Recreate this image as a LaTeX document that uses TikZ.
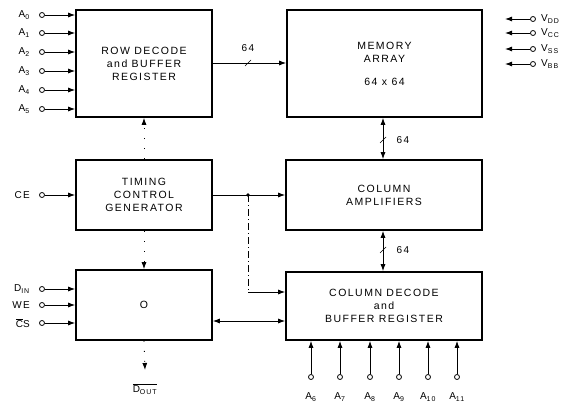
\documentclass[tikz,border=0pt]{standalone}
\usepackage{fontspec}
\setsansfont[LetterSpace=14]{Liberation Sans}
\usetikzlibrary{arrows.meta,calc,positioning}
\tikzset{
  blk/.style={draw, line width=1.6pt, font=\sffamily\fontsize{10.5}{13}\selectfont,
              align=center, inner sep=0pt},
  pin/.style={circle, draw, line width=0.8pt, fill=white, inner sep=0pt, minimum size=5pt},
  sig/.style={-{Latex[length=7pt,width=5pt]}, line width=0.9pt},
  bus/.style={{Latex[length=7pt,width=5pt]}-{Latex[length=7pt,width=5pt]}, line width=0.9pt},
  faint/.style={dash pattern=on 1pt off 9pt},          % faded trace in the scan
  dashdot/.style={dash pattern=on 7pt off 3pt on 1pt off 3pt},
  lbl/.style={font=\sffamily\fontsize{10}{11}\selectfont, inner sep=1pt},
  slash/.style={line width=0.7pt},
}
\newcommand{\busmark}[1]{\draw[slash] ($(#1)+(-3,3)$) -- ($(#1)+(3,-3)$);}
\begin{document}
\begin{tikzpicture}[x=1pt,y=-1pt]
  \useasboundingbox (0,0) rectangle (568,404);
  % blocks
  \node[blk, minimum width=136, minimum height=107] (row) at (144,63.5) {ROW DECODE\\and BUFFER\\REGISTER};
  \node[blk, minimum width=195, minimum height=107] (mem) at (384.5,63.5) {MEMORY\\ARRAY\\[10pt]64 x 64};
  \node[blk, minimum width=136, minimum height=70] (tim) at (144,195) {TIMING\\CONTROL\\GENERATOR};
  \node[blk, minimum width=196, minimum height=70] (amp) at (384,195) {COLUMN\\AMPLIFIERS};
  \node[blk, minimum width=136, minimum height=70] (io) at (144,305) {O};
  \node[blk, minimum width=196, minimum height=68] (col) at (384,306) {COLUMN DECODE\\and\\BUFFER REGISTER};

  % row address inputs
  \foreach \i/\yy in {0/15,1/33,2/52,3/71,4/90,5/109}{
    \node[pin] (ra\i) at (42,\yy) {};
    \node[lbl, anchor=east] (ral\i) at (31,\yy) {A\textsubscript{\i}};
    \draw[sig] (ra\i) -- (ra\i -| row.west);
  }

  % row decode to array
  \coordinate (rm) at (248,63);
  \draw[sig] (row.east |- rm) -- (mem.west |- rm);
  \busmark{rm}
  \node[lbl] (rml) at (248,48) {64};

  % supplies
  \foreach \n/\s/\yy in {dd/DD/19,cc/CC/33,ss/SS/49,bb/BB/64}{
    \node[pin] (v\n) at (533,\yy) {};
    \coordinate (e\n) at (505,\yy);
    \draw[sig] (v\n) -- (e\n);
    \node[lbl, anchor=west] (vl\n) at (540,\yy) {V\textsubscript{\s}};
  }

  % array / amplifiers / column decode
  \draw[bus] (mem.south -| 383,0) -- (amp.north -| 383,0);
  \busmark{383,140}
  \node[lbl] (ml) at (403,140) {64};
  \draw[bus] (amp.south -| 383,0) -- (col.north -| 383,0);
  \busmark{383,250}
  \node[lbl] (al) at (403,250) {64};

  % chip enable and timing
  \node[pin] (ce) at (42,195) {};
  \node[lbl, anchor=east] (cel) at (31,195) {CE};
  \draw[sig] (ce) -- (tim.west);
  \draw[sig] (tim.east) -- (amp.west);
  \coordinate (jn) at (248,195);
  \fill (jn) circle (1.8pt);
  \coordinate (jd) at (248,292);
  \draw[dashdot, line width=0.8pt] (jn) -- (jd);
  \draw[sig] (jd) -- (col.west |- jd);
  \draw[sig, faint] (tim.north) -- (row.south);
  \draw[sig, faint] (tim.south) -- (io.north);

  % data side
  \foreach \n/\t/\yy in {din/D\textsubscript{IN}/289,we/WE/305,cs/$\overline{\mbox{C}}$S/323}{
    \node[pin] (\n) at (42,\yy) {};
    \node[lbl, anchor=east] (\n l) at (31,\yy) {\t};
    \draw[sig] (\n) -- (\n -| io.west);
  }
  \draw[bus] (io.east |- 0,321) -- (col.west |- 0,321);
  \coordinate (dout) at (145,370);
  \draw[sig, faint] (io.south) -- (dout);
  \node[lbl] (doutl) at (145,389) {$\overline{\mbox{D\textsubscript{OUT}}}$};

  % column address inputs
  \foreach \i/\xx in {6/311,7/340,8/370,9/399,10/428,11/457}{
    \node[pin] (ca\i) at (\xx,377) {};
    \node[lbl] (cal\i) at (\xx,397) {A\textsubscript{\i}};
    \draw[sig] (ca\i) -- (ca\i |- col.south);
  }
\end{tikzpicture}
\end{document}
